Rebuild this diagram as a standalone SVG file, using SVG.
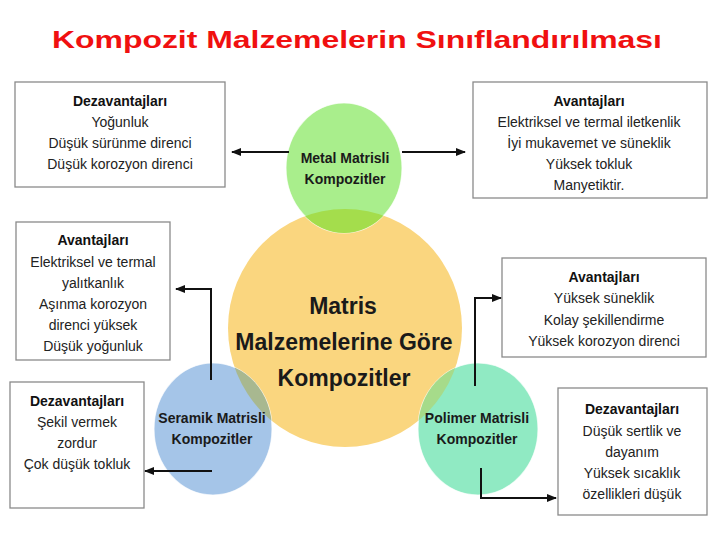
<svg xmlns="http://www.w3.org/2000/svg" width="720" height="540" viewBox="0 0 720 540">
<style>
.box{fill:#fff;stroke:#8a8a8a;stroke-width:1.3}
.t{font-family:"Liberation Sans",Arial,sans-serif;font-size:14px;fill:#222;text-anchor:middle}
.h{font-weight:bold;fill:#111}
.c{font-family:"Liberation Sans",Arial,sans-serif;font-weight:bold;fill:#1a1a1a;text-anchor:middle}
.conn{fill:none;stroke:#111;stroke-width:2}
.edge{stroke:#fff;stroke-width:1.2;stroke-opacity:0.7}
</style>
<defs>
<marker id="ah" markerUnits="userSpaceOnUse" markerWidth="10" markerHeight="8" refX="9" refY="4" orient="auto">
<path d="M0,0 L10,4 L0,8 z" fill="#111"/>
</marker>
<clipPath id="yc"><ellipse cx="345" cy="328" rx="117" ry="119"/></clipPath>
</defs>
<rect width="720" height="540" fill="#fff"/>
<text x="357" y="48" font-family="Liberation Sans,Arial,sans-serif" font-weight="bold" font-size="24" fill="#f01010" text-anchor="middle" textLength="610" lengthAdjust="spacingAndGlyphs">Kompozit Malzemelerin Sınıflandırılması</text>

<g id="center">
<ellipse cx="345" cy="328" rx="117" ry="119" fill="#fad67f"/>
</g>
<g id="metal">
<ellipse cx="344" cy="168" rx="58" ry="65" fill="#a9ee8c" class="edge"/>
<ellipse cx="344" cy="168" rx="58" ry="65" fill="#a4dd4c" clip-path="url(#yc)"/>
<text class="c" font-size="14" x="345" y="163">Metal Matrisli</text>
<text class="c" font-size="14" x="345" y="184">Kompozitler</text>
</g>
<g id="seramik">
<ellipse cx="213" cy="429" rx="59" ry="66" fill="#a5c5e8" class="edge"/>
<ellipse cx="213" cy="429" rx="59" ry="66" fill="#a8b890" clip-path="url(#yc)"/>
<text class="c" font-size="14" x="212" y="423">Seramik Matrisli</text>
<text class="c" font-size="14" x="212" y="444">Kompozitler</text>
</g>
<g id="polimer">
<ellipse cx="478" cy="429" rx="60" ry="66" fill="#90eac3" class="edge"/>
<ellipse cx="478" cy="429" rx="60" ry="66" fill="#a6db8a" clip-path="url(#yc)"/>
<text class="c" font-size="14" x="477" y="423">Polimer Matrisli</text>
<text class="c" font-size="14" x="477" y="444">Kompozitler</text>
</g>
<g id="center-label">
<text class="c" font-size="23" x="343" y="314">Matris</text>
<text class="c" font-size="23" x="344" y="350">Malzemelerine Göre</text>
<text class="c" font-size="23" x="344" y="386">Kompozitler</text>
</g>

<g id="box-metal-dez">
<rect class="box" x="15" y="82" width="210" height="105"/>
<text class="t h" x="120" y="106">Dezavantajları</text>
<text class="t" x="120" y="127">Yoğunluk</text>
<text class="t" x="120" y="148">Düşük sürünme direnci</text>
<text class="t" x="120" y="169">Düşük korozyon direnci</text>
</g>
<g id="box-metal-av">
<rect class="box" x="473" y="82" width="234" height="116"/>
<text class="t h" x="589" y="106">Avantajları</text>
<text class="t" x="589" y="127">Elektriksel ve termal iletkenlik</text>
<text class="t" x="589" y="148">İyi mukavemet ve süneklik</text>
<text class="t" x="589" y="169">Yüksek tokluk</text>
<text class="t" x="589" y="190">Manyetiktir.</text>
</g>
<g id="box-seramik-av">
<rect class="box" x="16" y="222" width="154" height="138"/>
<text class="t h" x="93" y="245">Avantajları</text>
<text class="t" x="93" y="267">Elektriksel ve termal</text>
<text class="t" x="93" y="288">yalıtkanlık</text>
<text class="t" x="93" y="309">Aşınma korozyon</text>
<text class="t" x="93" y="330">direnci yüksek</text>
<text class="t" x="93" y="351">Düşük yoğunluk</text>
</g>
<g id="box-polimer-av">
<rect class="box" x="502" y="258" width="204" height="99"/>
<text class="t h" x="604" y="282">Avantajları</text>
<text class="t" x="604" y="303">Yüksek süneklik</text>
<text class="t" x="604" y="325">Kolay şekillendirme</text>
<text class="t" x="604" y="346">Yüksek korozyon direnci</text>
</g>
<g id="box-seramik-dez">
<rect class="box" x="10" y="382" width="134" height="126"/>
<text class="t h" x="77" y="406">Dezavantajları</text>
<text class="t" x="77" y="427">Şekil vermek</text>
<text class="t" x="77" y="448">zordur</text>
<text class="t" x="77" y="469">Çok düşük tokluk</text>
</g>
<g id="box-polimer-dez">
<rect class="box" x="558" y="388" width="149" height="127"/>
<text class="t h" x="632" y="414">Dezavantajları</text>
<text class="t" x="632" y="436">Düşük sertlik ve</text>
<text class="t" x="632" y="457">dayanım</text>
<text class="t" x="632" y="478">Yüksek sıcaklık</text>
<text class="t" x="632" y="499">özellikleri düşük</text>
</g>

<g id="connectors">
<path class="conn" d="M289 152 H232" marker-end="url(#ah)"/>
<path class="conn" d="M402 152 H465" marker-end="url(#ah)"/>
<path class="conn" d="M211 380 V289 H176" marker-end="url(#ah)"/>
<path class="conn" d="M475 386 V298 H501" marker-end="url(#ah)"/>
<path class="conn" d="M212 471 H145" marker-end="url(#ah)"/>
<path class="conn" d="M481 468 V498 H556" marker-end="url(#ah)"/>
</g>
</svg>
